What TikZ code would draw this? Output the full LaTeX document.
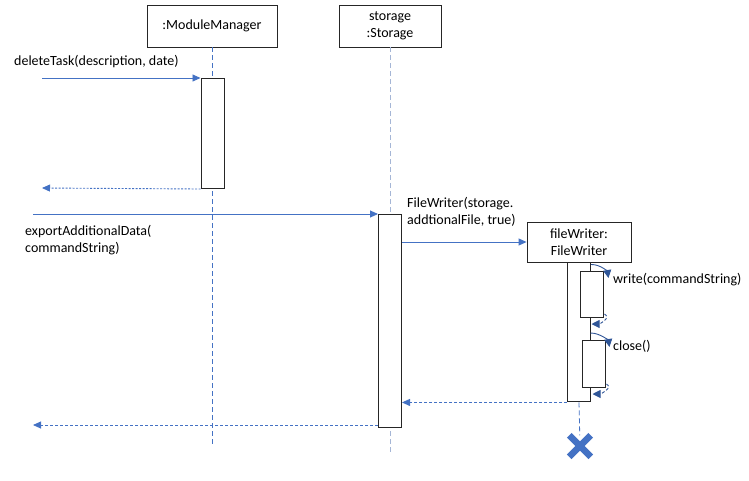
\documentclass[tikz,border=0pt]{standalone}
\usepackage{fontspec}
\setmainfont{Carlito}
\usetikzlibrary{arrows.meta, positioning, calc, shapes.misc}
\definecolor{msgBlue}{RGB}{68, 114, 196}
\definecolor{selfBlue}{RGB}{47, 85, 151}
\definecolor{lifeGray}{RGB}{165, 182, 214}

\begin{document}
\begin{tikzpicture}[
    x=1pt, y=-1pt,
    font=\fontsize{14}{17}\selectfont,
    % Cajas de objetos
    object/.style={
        draw=black!85,
        line width=0.9pt,
        minimum height=42,
        align=center,
        inner sep=2pt
    },
    % Barras de activacion
    activation/.style={
        draw=black!85,
        line width=1pt,
        fill=white,
        minimum width=23,
        anchor=north,
        inner sep=0pt
    },
    % Lineas de vida
    lifeline/.style={
        msgBlue,
        line width=0.8pt,
        dash pattern=on 5pt off 3pt
    },
    % Mensajes
    msg/.style={
        -{Triangle[length=8pt, width=7pt]},
        msgBlue,
        line width=0.9pt
    },
    reply/.style={
        msg,
        dash pattern=on 3pt off 2pt
    },
    selfcall/.style={
        -{Triangle[length=8pt, width=8pt]},
        selfBlue,
        line width=0.9pt
    },
    msglabel/.style={
        align=left,
        inner sep=0pt
    },
    destroy/.style={
        cross out,
        draw=msgBlue,
        line width=6.5pt,
        minimum size=15,
        inner sep=0pt
    }
]

    \useasboundingbox (0,0) rectangle (749,480);

    % --- 1. Objetos y lineas de vida ---
    \node[object, minimum width=130] (mm) at (212,26) {:ModuleManager};
    \node[object, minimum width=102] (st) at (390,26) {storage\\:Storage};
    \node[object, minimum width=104, minimum height=40] (fw) at (579,242) {fileWriter:\\FileWriter};

    \coordinate (mm_end) at (212,447);
    \coordinate (st_end) at (390,452);
    \draw[lifeline] (mm) -- (mm_end);
    \draw[lifeline, lifeGray] (st) -- (st_end);

    % Destruccion del fileWriter
    \node[destroy] (fw_x) at (580,446) {};

    % --- 2. Activaciones ---
    \node[activation, minimum height=110] (mm_act) at (212.5,78) {};
    \node[activation, minimum height=213] (st_act) at (390,214) {};
    \node[activation, minimum height=139] (fw_act) at (fw.south) {};
    \draw[lifeline] (fw_act.south) -- (fw_x);
    \node[activation, minimum height=46] (write_act) at (591.5,271) {};
    \node[activation, minimum height=47] (close_act) at (593.5,340) {};

    % --- 3. deleteTask ---
    \coordinate (del_in) at (42,78);
    \coordinate (del_out) at (42,188);
    \node[msglabel, anchor=west] (del_lbl) at (14,62) {deleteTask(description, date)};
    \draw[msg] (del_in) -- (mm_act.north west);
    \draw[reply, dash pattern=on 2pt off 1.5pt] (mm_act.south west) -- (del_out);

    % --- 4. exportAdditionalData ---
    \coordinate (exp_in) at (33,214);
    \coordinate (exp_out) at (33,425);
    \node[msglabel, anchor=north west] (exp_lbl) at (25,225) {exportAdditionalData(\\commandString)};
    \draw[msg] (exp_in) -- (st_act.north west);

    % Creacion del FileWriter
    \node[msglabel, anchor=west] (fw_lbl) at (407,212) {FileWriter(storage.\\addtionalFile, true)};
    \draw[msg] (st_act.east |- fw.west) -- (fw.west);

    % write(commandString)
    \draw[selfcall] ($(fw_act.north east)+(0,2)$) .. controls +(10,0) and +(-1,-6) .. ($(write_act.north east)+(5,7)$);
    \node[msglabel, anchor=west] (write_lbl) at (613,280) {write(commandString)};
    \draw[selfcall, dash pattern=on 3pt off 2pt] ($(write_act.south east)+(1,-4)$) .. controls +(7,4) and +(8,0) .. ($(write_act.south west)+(12,6)$);

    % close()
    \draw[selfcall] ($(close_act.north west)+(9,-7)$) .. controls +(10,0) and +(-1,-6) .. ($(close_act.north east)+(4,7)$);
    \node[msglabel, anchor=west] (close_lbl) at (613,346) {close()};
    \draw[selfcall, dash pattern=on 3pt off 2pt] ($(close_act.south east)+(1,-4)$) .. controls +(7,4) and +(8,0) .. ($(close_act.south west)+(11,6)$);

    % --- 5. Respuestas ---
    \draw[reply] (fw_act.south west) -- (st_act.east |- fw_act.south west);
    \draw[reply] (st_act.west |- exp_out) -- (exp_out);

\end{tikzpicture}
\end{document}
